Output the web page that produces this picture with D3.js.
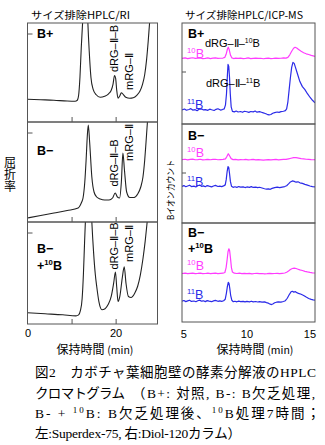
<!DOCTYPE html>
<html><head><meta charset="utf-8">
<script src="https://cdn.jsdelivr.net/npm/d3@7"></script>
<style>body{margin:0;background:#fff}svg{display:block}</style>
</head><body>
<svg id="c" width="325" height="445"></svg>
<script>
// ---------------- DATA ----------------
const riTickValues = [10, 20];
const riTickLabels = [0, 20];
const icpTickLabels = [5, 10, 15];
const riPanelNames = ["B+", "B−", "B−"];

// RI traces (time min, signal a.u.)
const riBplus = [[0,23],[3,22.5],[6,22],[9,21.2],[10.8,21],[11.3,22],[11.6,27],[11.9,45],[12.2,75],[12.5,100],[12.8,130],[13.2,140],[13.5,125],[13.7,100],[14.0,72],[14.4,45],[14.9,33],[15.6,27.5],[16.5,25],[17.5,26],[18.4,28.5],[19.0,32],[19.4,38],[19.75,47],[20.0,44],[20.25,32],[20.55,24],[20.9,26],[21.3,29.5],[21.7,28],[22.3,25],[23.2,24],[24.0,24.5],[24.8,27],[25.5,31],[26.1,38],[26.6,48],[27.0,62],[27.4,82],[27.7,100],[28,115]];
const riBminus = [[0,4],[3,6.5],[6,9],[9,11.5],[11.5,14],[12.0,17],[12.3,20],[12.6,24],[13.0,40],[13.3,62],[13.6,88],[13.8,97],[14.1,80],[14.6,45],[15.1,30],[15.7,25],[16.5,23],[17.5,22],[18.5,22],[19.3,24],[19.9,29],[20.4,25],[20.9,24],[21.3,40],[21.65,69],[22.0,52],[22.5,30],[23.2,24.5],[24.2,24.5],[25.0,28],[25.7,35],[26.2,45],[26.6,62],[26.9,80],[27.2,99],[27.5,115]];
const riB10 = [[0,11],[4,10],[8,9],[11.0,8],[11.6,9],[12.0,13],[12.4,25],[12.7,50],[12.95,80],[13.15,102],[13.4,130],[13.8,140],[14.3,130],[14.6,100],[15.0,70],[15.4,48],[15.7,37],[16.2,22],[16.9,14],[17.6,15],[18.3,19],[19.0,27],[19.55,40],[19.95,51],[20.25,36],[20.55,22],[20.95,27],[21.5,45],[21.95,56],[22.35,40],[22.9,27],[23.5,26],[24.3,30],[25.0,37],[25.6,48],[26.2,64],[26.7,81],[27.2,102],[27.5,115]];

// ICP-MS traces (time min, counts a.u.)
const icp10Bplus = [[4.85,65],[5.1,65.4],[5.3,64.8],[5.5,65.2],[5.7,65.6],[5.9,64.9],[6.1,65.1],[6.3,65.5],[6.5,64.7],[6.7,65],[6.9,65.4],[7.1,64.8],[7.3,65.2],[7.5,65.5],[7.7,64.9],[7.9,65.1],[8.1,65.3],[8.25,66],[8.35,69],[8.45,74],[8.52,76],[8.6,73.5],[8.7,68],[8.8,65.5],[8.95,64.8],[9.1,65.2],[9.3,64.9],[9.5,65.3],[9.7,64.8],[9.9,65],[10.1,65.4],[10.3,64.7],[10.5,65],[10.7,65.3],[10.9,64.9],[11.1,65.1],[11.3,64.6],[11.5,64.9],[11.7,65.2],[11.9,64.8],[12.1,65],[12.3,65.3],[12.5,64.9],[12.7,65.1],[12.9,65.4],[13.1,65.2],[13.25,66],[13.4,68.5],[13.55,72],[13.7,75],[13.82,76],[13.95,75.2],[14.1,73.8],[14.3,72],[14.5,70.6],[14.7,69.5],[14.9,68.8],[15.1,68],[15.25,67.5],[15.4,67]];
const icp11Bplus = [[4.85,14],[5.05,14.8],[5.2,13.6],[5.4,14.4],[5.55,15.2],[5.7,13.8],[5.9,14.2],[6.05,13.2],[6.2,14.6],[6.4,15],[6.55,13.9],[6.7,14.3],[6.9,13.5],[7.05,14.7],[7.2,14.1],[7.4,13.4],[7.55,14.5],[7.7,15.1],[7.9,13.8],[8.05,14.3],[8.2,15],[8.3,19],[8.38,30],[8.45,48],[8.5,59],[8.56,57],[8.62,46],[8.68,30],[8.75,17],[8.85,12.5],[9.0,12],[9.15,12.8],[9.3,11.9],[9.5,12.4],[9.65,11.6],[9.8,12.6],[10.0,12.1],[10.15,11.5],[10.3,12.4],[10.5,12],[10.65,12.8],[10.8,11.7],[11.0,12.2],[11.15,11.6],[11.3,11],[11.45,10.4],[11.6,9.6],[11.75,9],[11.9,9.4],[12.05,10.6],[12.2,11.3],[12.4,11.9],[12.55,11.5],[12.7,12.2],[12.9,12.6],[13.05,13.2],[13.15,15],[13.25,22],[13.35,34],[13.45,46],[13.55,56],[13.65,61],[13.75,60],[13.85,56],[14.0,50],[14.2,42],[14.4,37],[14.6,34],[14.8,30],[15.0,26.5],[15.2,23.5],[15.4,21]];
const icp10Bminus = [[4.85,64],[5.1,64.4],[5.3,63.8],[5.5,64.2],[5.7,64.5],[5.9,63.9],[6.1,64.1],[6.3,64.4],[6.5,63.8],[6.7,64],[6.9,64.3],[7.1,63.9],[7.3,64.2],[7.5,64.4],[7.7,63.9],[7.9,64.1],[8.1,64.3],[8.3,64.8],[8.42,67.5],[8.52,70],[8.62,68],[8.75,65],[8.9,64],[9.1,64.2],[9.3,63.8],[9.5,64.1],[9.7,63.9],[9.9,64.2],[10.1,63.8],[10.3,64],[10.5,64.3],[10.7,63.7],[10.9,64],[11.1,63.8],[11.3,63.5],[11.5,63.8],[11.7,64.1],[11.9,63.7],[12.1,64],[12.3,64.2],[12.5,63.8],[12.7,64.1],[12.9,64.3],[13.1,64.2],[13.3,64.8],[13.5,65.4],[13.7,66],[13.9,66],[14.1,65.6],[14.3,65.1],[14.5,64.8],[14.7,64.4],[14.9,64.2],[15.1,64],[15.25,63.9],[15.4,64]];
const icp11Bminus = [[4.85,37],[5.0,37.8],[5.15,36.6],[5.3,37.4],[5.45,38.2],[5.6,36.8],[5.8,37.2],[5.95,36.4],[6.1,37.6],[6.25,38.4],[6.4,37],[6.55,37.5],[6.7,36.6],[6.85,37.8],[7.0,37.2],[7.2,36.5],[7.35,37.4],[7.5,38],[7.7,36.9],[7.85,37.3],[8.0,36.8],[8.15,37.5],[8.28,38.5],[8.36,44],[8.43,52],[8.5,57],[8.56,56],[8.62,50],[8.69,42],[8.78,37],[8.9,36],[9.05,36.6],[9.2,36],[9.35,36.8],[9.5,36.2],[9.7,36.5],[9.85,35.8],[10.0,36.4],[10.2,36],[10.35,36.7],[10.5,35.9],[10.7,36.3],[10.85,35.7],[11.0,36.1],[11.2,35.4],[11.4,34.6],[11.55,34.2],[11.7,34.5],[11.85,34],[12.0,35],[12.2,35.8],[12.4,36.2],[12.6,35.7],[12.8,36.3],[13.0,36.8],[13.15,37.6],[13.3,39.5],[13.45,41.5],[13.6,42.5],[13.75,42],[13.9,41.2],[14.05,41.6],[14.2,40.6],[14.4,40],[14.6,39],[14.8,38.2],[15.0,37.4],[15.2,36.8],[15.4,36.5]];
const icp10B10 = [[4.85,49],[5.1,49.3],[5.3,48.8],[5.5,49.2],[5.7,49.4],[5.9,48.9],[6.1,49.1],[6.3,49.4],[6.5,48.8],[6.7,49],[6.9,49.3],[7.1,48.9],[7.3,49.2],[7.5,49.4],[7.7,48.9],[7.9,49.1],[8.1,49.3],[8.25,50],[8.35,55],[8.43,63],[8.5,71],[8.57,74],[8.63,72],[8.7,64],[8.77,55],[8.85,50.5],[9.0,49.3],[9.2,49],[9.4,49.3],[9.6,48.8],[9.8,49.1],[10.0,48.9],[10.2,49.2],[10.4,48.7],[10.6,49],[10.8,49.2],[11.0,48.8],[11.2,49],[11.4,48.7],[11.6,48.9],[11.8,49.2],[12.0,48.8],[12.2,49],[12.4,49.2],[12.6,48.9],[12.8,49.2],[13.0,49.5],[13.15,50.2],[13.3,51.5],[13.45,53],[13.6,54],[13.75,54.5],[13.9,54],[14.05,53.3],[14.2,52.6],[14.4,52],[14.6,51.2],[14.8,50.6],[15.0,50.1],[15.2,49.7],[15.4,49.5]];
const icp11B10 = [[4.85,21],[5.0,21.7],[5.15,20.6],[5.3,21.3],[5.45,22],[5.6,20.8],[5.8,21.2],[5.95,20.5],[6.1,21.5],[6.25,22.1],[6.4,21],[6.55,21.4],[6.7,20.6],[6.85,21.6],[7.0,21.1],[7.2,20.5],[7.35,21.3],[7.5,21.8],[7.7,20.9],[7.85,21.3],[8.0,20.8],[8.15,21.5],[8.28,23],[8.37,29],[8.45,36],[8.52,40],[8.58,39],[8.64,34],[8.71,27],[8.8,22],[8.92,20.5],[9.05,21],[9.2,20.4],[9.35,21.1],[9.5,20.6],[9.7,20.9],[9.85,20.3],[10.0,20.8],[10.2,20.4],[10.35,21],[10.5,20.3],[10.7,20.7],[10.85,20.2],[11.0,20.6],[11.2,20.1],[11.4,20.3],[11.55,19.6],[11.7,19],[11.85,18],[11.95,17.6],[12.05,18.2],[12.2,19.4],[12.35,20],[12.5,20.4],[12.7,20.1],[12.9,20.7],[13.05,21.5],[13.2,24],[13.35,27.5],[13.5,30.5],[13.6,31],[13.72,30.2],[13.85,30.6],[14.0,29.4],[14.15,28.6],[14.3,28],[14.5,26.8],[14.7,25.2],[14.9,23.8],[15.1,22.8],[15.25,22.3],[15.4,22]];

// ---------------- DRAW ----------------
const svg = d3.select("#c");
const SANS = "'Liberation Sans', Arial, sans-serif";
const CJK = "'Noto Sans CJK JP', 'Liberation Sans', sans-serif";
const SERIF = "'Liberation Serif', 'Noto Sans CJK JP', serif";
const MAG = "#ff3cff", BLUE = "#2b2be8", FRAME = "#555";

const L = {x0: 27.5, x1: 157.5, tops: [23, 122, 222], bots: [122, 222, 324]};
const R = {x0: 182, x1: 315, tops: [23, 124, 223], bots: [124, 223, 322]};
const xL = d3.scaleLinear().domain([0, 29.5]).range([L.x0, L.x1]);
const xR = d3.scaleLinear().domain([4.85, 15.4]).range([R.x0, R.x1]);

const defs = svg.append("defs");
function clip(id, x0, y0, x1, y1) {
  defs.append("clipPath").attr("id", id).append("rect")
    .attr("x", x0).attr("y", y0).attr("width", x1 - x0).attr("height", y1 - y0);
  return "url(#" + id + ")";
}

function supText(x, y, parts, size, color, weight) {
  const t = svg.append("text").attr("x", x).attr("y", y)
    .attr("font-family", SANS).attr("font-size", size)
    .attr("fill", color || "#000").attr("font-weight", weight || "normal");
  let up = false;
  parts.forEach(p => {
    const ts = t.append("tspan").text(p.t);
    if (p.sup) { ts.attr("font-size", size * 0.62).attr("dy", up ? 0 : -size * 0.38); up = true; }
    else { ts.attr("dy", up ? size * 0.38 : 0); up = false; }
  });
  return t;
}

// ---- Left (RI) panels
const riData = [riBplus, riBminus, riB10];
riData.forEach((d, i) => {
  const top = L.tops[i], bot = L.bots[i];
  const y = d3.scaleLinear().domain([0, 100]).range([bot, top]);
  const line = d3.line().x(p => xL(p[0])).y(p => y(p[1])).curve(d3.curveMonotoneX);
  svg.append("path").attr("d", line(d)).attr("fill", "none")
    .attr("stroke", "#222").attr("stroke-width", 1.1)
    .attr("clip-path", clip("cl" + i, L.x0, top, L.x1, bot));
  svg.append("rect").attr("x", L.x0).attr("y", top).attr("width", L.x1 - L.x0)
    .attr("height", bot - top).attr("fill", "none").attr("stroke", FRAME).attr("stroke-width", 1);
  const ax = d3.axisBottom(xL).tickValues(riTickValues).tickSize(-5).tickFormat("");
  const g = svg.append("g").attr("transform", `translate(0,${bot})`).call(ax);
  g.select(".domain").remove();
  g.selectAll("line").attr("stroke", FRAME);
  svg.append("line").attr("x1", L.x0).attr("x2", L.x0 + 5)
    .attr("y1", top + 11).attr("y2", top + 11).attr("stroke", FRAME);
  // peak labels
  const dY = [48.5, 163, 246][i], mY = [71.5, 142.5, 243.5][i];
  svg.append("text").attr("transform", `translate(118,${dY}) rotate(-90)`)
    .attr("text-anchor", "middle").attr("font-family", SANS).attr("font-size", 11)
    .text("dRG–Ⅱ–B");
  svg.append("text").attr("transform", `translate(132.5,${mY}) rotate(-90)`)
    .attr("text-anchor", "middle").attr("font-family", SANS).attr("font-size", 11)
    .text("mRG–Ⅱ");
});
svg.append("text").attr("x", 37).attr("y", 38).attr("font-family", SANS)
  .attr("font-size", 12.5).attr("font-weight", "bold").text(riPanelNames[0]);
svg.append("text").attr("x", 37).attr("y", 155).attr("font-family", SANS)
  .attr("font-size", 12.5).attr("font-weight", "bold").text(riPanelNames[1]);
svg.append("text").attr("x", 37).attr("y", 253).attr("font-family", SANS)
  .attr("font-size", 12.5).attr("font-weight", "bold").text(riPanelNames[2]);
supText(37, 270, [{t: "+"}, {t: "10", sup: true}, {t: "B"}], 12.5, "#000", "bold");

riTickLabels.forEach(v => {
  svg.append("text").attr("x", xL(v) + 0.5).attr("y", 337).attr("text-anchor", "middle")
    .attr("font-family", SANS).attr("font-size", 11).text(v);
});

// ---- Right (ICP-MS) panels
const icpData = [[icp10Bplus, icp11Bplus], [icp10Bminus, icp11Bminus], [icp10B10, icp11B10]];
icpData.forEach((pair, i) => {
  const top = R.tops[i], bot = R.bots[i];
  const y = d3.scaleLinear().domain([0, 100]).range([bot, top]);
  const line = d3.line().x(p => xR(p[0])).y(p => y(p[1]));
  const cp = clip("cr" + i, R.x0, top, R.x1, bot);
  [[pair[0], MAG], [pair[1], BLUE]].forEach(([d, c]) => {
    svg.append("path").attr("d", line(d)).attr("fill", "none")
      .attr("stroke", c).attr("stroke-width", 1.2).attr("stroke-linejoin", "round")
      .attr("clip-path", cp);
  });
  svg.append("rect").attr("x", R.x0).attr("y", top).attr("width", R.x1 - R.x0)
    .attr("height", bot - top).attr("fill", "none").attr("stroke", FRAME).attr("stroke-width", 1);
  if (i < 2) svg.append("line").attr("x1", R.x0).attr("x2", R.x0 + 4)
    .attr("y1", top + 49).attr("y2", top + 49).attr("stroke", FRAME);
});
svg.append("text").attr("x", 188).attr("y", 37.5).attr("font-family", SANS)
  .attr("font-size", 12.5).attr("font-weight", "bold").text("B+");
svg.append("text").attr("x", 188).attr("y", 140).attr("font-family", SANS)
  .attr("font-size", 12.5).attr("font-weight", "bold").text("B−");
svg.append("text").attr("x", 188).attr("y", 237).attr("font-family", SANS)
  .attr("font-size", 12.5).attr("font-weight", "bold").text("B−");
supText(188, 253, [{t: "+"}, {t: "10", sup: true}, {t: "B"}], 12.5, "#000", "bold");

supText(205, 47, [{t: "dRG–Ⅱ–"}, {t: "10", sup: true}, {t: "B"}], 11, "#000");
supText(206, 87, [{t: "dRG–Ⅱ–"}, {t: "11", sup: true}, {t: "B"}], 11, "#000");

[[57.5, 108.5], [157, 186], [270, 299]].forEach(([y10, y11]) => {
  supText(187, y10, [{t: "10", sup: true}, {t: "B"}], 12.5, MAG);
  supText(187, y11, [{t: "11", sup: true}, {t: "B"}], 12.5, BLUE);
});

icpTickLabels.forEach(v => {
  svg.append("text").attr("x", xR(v)).attr("y", 338).attr("text-anchor", "middle")
    .attr("font-family", SANS).attr("font-size", 11).text(v);
});

// ---- Titles and axis labels
svg.append("text").attr("x", 31).attr("y", 19).attr("font-family", CJK)
  .attr("font-size", 10.5).attr("textLength", 99).attr("lengthAdjust", "spacingAndGlyphs")
  .text("サイズ排除HPLC/RI");
svg.append("text").attr("x", 185).attr("y", 19).attr("font-family", CJK)
  .attr("font-size", 10.5).attr("textLength", 118).attr("lengthAdjust", "spacingAndGlyphs")
  .text("サイズ排除HPLC/ICP-MS");

// vertical "屈折率" (upright, top-to-bottom)
svg.append("text").attr("x", 10).attr("y", 174).attr("text-anchor", "middle")
  .attr("font-family", CJK).attr("font-size", 12)
  .style("writing-mode", "vertical-rl").style("text-orientation", "upright")
  .text("屈折率");
svg.append("text").attr("transform", "translate(173.5,190) rotate(-90)")
  .attr("text-anchor", "middle").attr("font-family", CJK).attr("font-size", 9)
  .attr("textLength", 60).attr("lengthAdjust", "spacingAndGlyphs").text("Bイオンカウント");

[95, 255].forEach(cx => {
  const t = svg.append("text").attr("x", cx).attr("y", 354).attr("text-anchor", "middle")
    .attr("font-family", CJK).attr("font-size", 12);
  t.append("tspan").text("保持時間 ");
  t.append("tspan").attr("font-size", 10.5).text("(min)");
});

// ---- Caption
function cap(x, y, len, parts) {
  const t = svg.append("text").attr("x", x).attr("y", y).attr("font-family", SERIF)
    .attr("font-size", 13.5);
  if (len) t.attr("textLength", len).attr("lengthAdjust", "spacing");
  let up = false;
  parts.forEach(p => {
    const ts = t.append("tspan").text(p.t);
    if (p.sup) { ts.attr("font-size", 9).attr("dy", up ? 0 : -5); up = true; }
    else { ts.attr("dy", up ? 5 : 0); up = false; }
  });
}
cap(35, 377, 281, [{t: "図2　カボチャ葉細胞壁の酵素分解液のHPLC"}]);
cap(35, 398, 90, [{t: "クロマトグラム"}]);
cap(132, 398, 183, [{t: "（B+: 対照, B-: B欠乏処理,"}]);
cap(35, 418, 285, [{t: "B-  +  "}, {t: "10", sup: true}, {t: "B: B欠乏処理後、"}, {t: "10", sup: true}, {t: "B処理7時間；"}]);
cap(35, 438, 206, [{t: "左:Superdex-75, 右:Diol-120カラム）"}]);
</script>
</body></html>
